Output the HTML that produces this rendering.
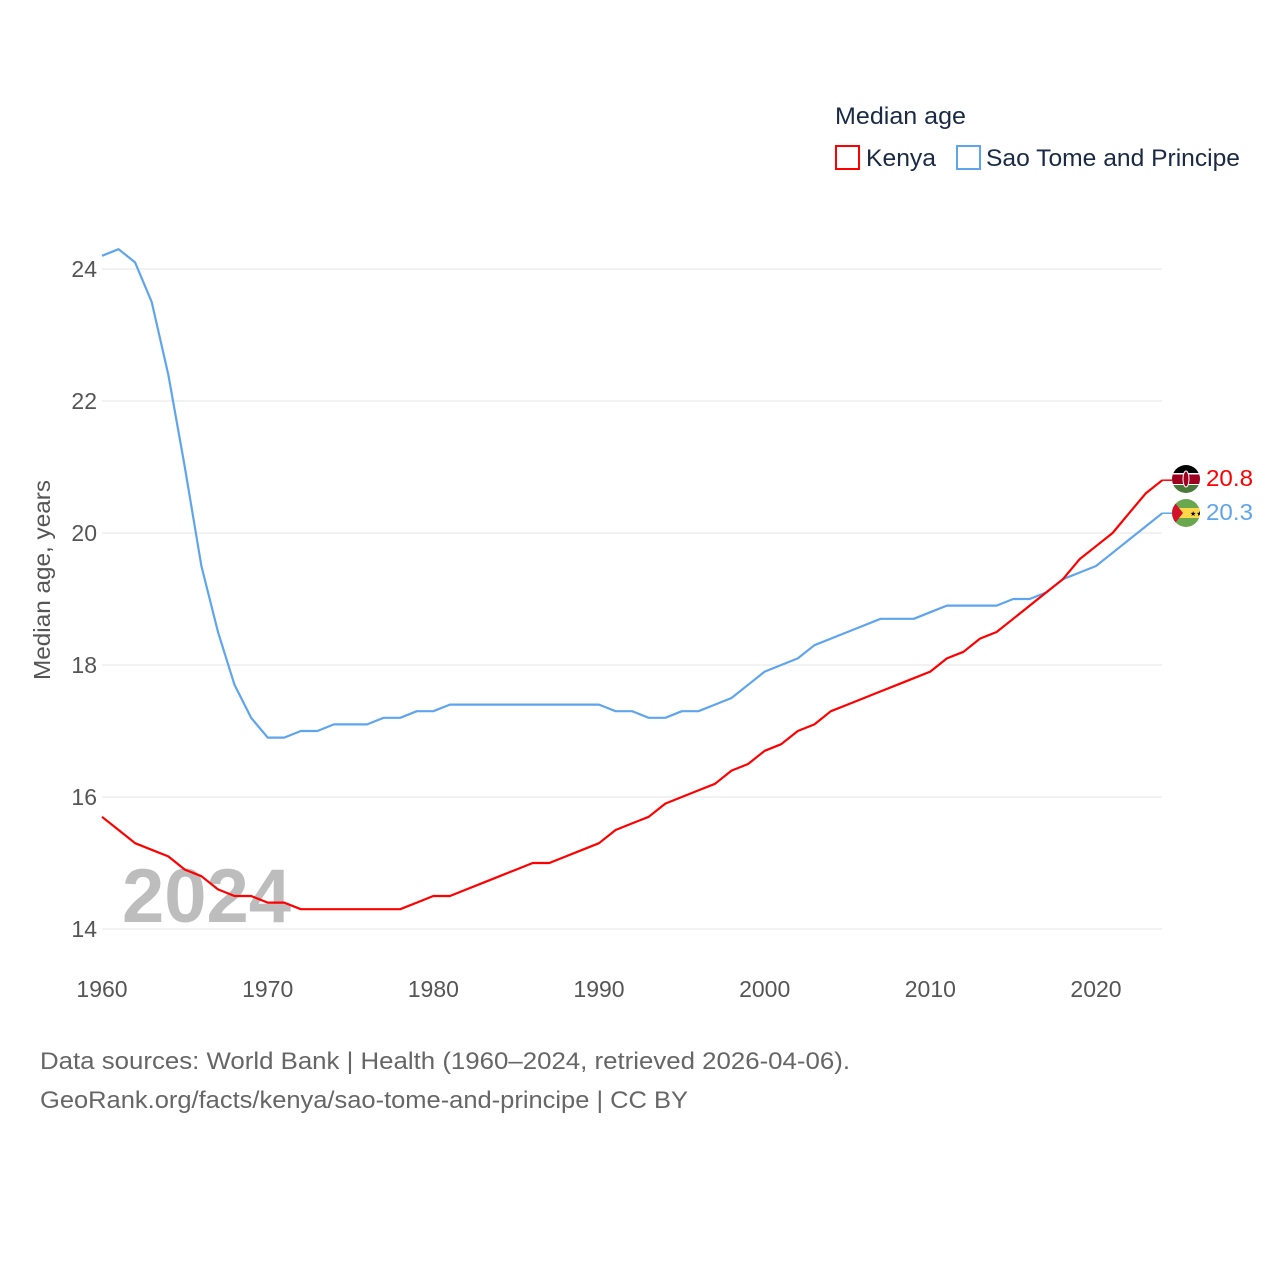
<!DOCTYPE html>
<html><head><meta charset="utf-8"><style>
body{margin:0;background:#fff;font-family:"Liberation Sans",sans-serif}
svg text{font-family:"Liberation Sans",sans-serif}
</style></head><body>
<svg id="chart" width="1280" height="1280" xmlns="http://www.w3.org/2000/svg">
<defs>
<clipPath id="c1"><circle cx="1186" cy="479" r="14"/></clipPath>
<clipPath id="c2"><circle cx="1186" cy="513" r="14"/></clipPath>
</defs>
<g id="grid"></g>
<g id="yticks"></g>
<g id="xticks"></g>
<text x="122" y="922" font-size="76" font-weight="bold" fill="#bdbdbd">2024</text>
<text transform="translate(50,580) rotate(-90)" text-anchor="middle" font-size="23" fill="#555" textLength="200" lengthAdjust="spacingAndGlyphs">Median age, years</text>
<g id="lines"></g>
<g clip-path="url(#c1)">
<rect x="1172" y="465" width="28" height="9" fill="#000"/><rect x="1172" y="474" width="28" height="10" fill="#a00020"/><rect x="1172" y="473" width="28" height="1.5" fill="#fff"/><rect x="1172" y="484" width="28" height="1.5" fill="#fff"/><rect x="1172" y="485" width="28" height="9" fill="#4a7a3a"/><ellipse cx="1186" cy="479" rx="3" ry="8" fill="#a00020" stroke="#fff" stroke-width="1"/>
</g>
<g clip-path="url(#c2)">
<rect x="1172" y="499" width="28" height="28" fill="#6aa84f"/><rect x="1172" y="508" width="28" height="10" fill="#ffd84a"/><polygon points="1172,499 1183,513 1172,527" fill="#d4112b"/><text x="1190" y="516" font-size="7">★★</text>
</g>
<text id="lblK" x="1206" y="486" font-size="23" fill="#f00" textLength="47" lengthAdjust="spacingAndGlyphs">20.8</text>
<text id="lblS" x="1206" y="520" font-size="23" fill="#5ea5ee" textLength="47" lengthAdjust="spacingAndGlyphs">20.3</text>
<text x="835" y="124" font-size="24" fill="#1a2a44" textLength="131" lengthAdjust="spacingAndGlyphs">Median age</text>
<rect x="836" y="146" width="23" height="23" fill="none" stroke="#f00" stroke-width="2"/>
<text x="866" y="166" font-size="24" fill="#1a2a44" textLength="70" lengthAdjust="spacingAndGlyphs">Kenya</text>
<rect x="957" y="146" width="23" height="23" fill="none" stroke="#5ea5ee" stroke-width="2"/>
<text x="986" y="166" font-size="24" fill="#1a2a44" textLength="254" lengthAdjust="spacingAndGlyphs">Sao Tome and Principe</text>
<text x="40" y="1069" font-size="24" fill="#666" textLength="810" lengthAdjust="spacingAndGlyphs">Data sources: World Bank | Health (1960–2024, retrieved 2026-04-06).</text>
<text x="40" y="1108" font-size="24" fill="#666" textLength="648" lengthAdjust="spacingAndGlyphs">GeoRank.org/facts/kenya/sao-tome-and-principe | CC BY</text>
</svg>
<script>
const years=[];for(let y=1960;y<=2024;y++)years.push(y);
const kenya=[15.7,15.5,15.3,15.2,15.1,14.9,14.8,14.6,14.5,14.5,14.4,14.4,14.3,14.3,14.3,14.3,14.3,14.3,14.3,14.4,14.5,14.5,14.6,14.7,14.8,14.9,15.0,15.0,15.1,15.2,15.3,15.5,15.6,15.7,15.9,16.0,16.1,16.2,16.4,16.5,16.7,16.8,17.0,17.1,17.3,17.4,17.5,17.6,17.7,17.8,17.9,18.1,18.2,18.4,18.5,18.7,18.9,19.1,19.3,19.6,19.8,20.0,20.3,20.6,20.8];
const saoTome=[24.2,24.3,24.1,23.5,22.4,21.0,19.5,18.5,17.7,17.2,16.9,16.9,17.0,17.0,17.1,17.1,17.1,17.2,17.2,17.3,17.3,17.4,17.4,17.4,17.4,17.4,17.4,17.4,17.4,17.4,17.4,17.3,17.3,17.2,17.2,17.3,17.3,17.4,17.5,17.7,17.9,18.0,18.1,18.3,18.4,18.5,18.6,18.7,18.7,18.7,18.8,18.9,18.9,18.9,18.9,19.0,19.0,19.1,19.3,19.4,19.5,19.7,19.9,20.1,20.3];
const yTicks=[14,16,18,20,22,24];
const xTicks=[1960,1970,1980,1990,2000,2010,2020];
const NS='http://www.w3.org/2000/svg';
const X=y=>102+(y-1960)*(1096-102)/60;
const Y=v=>929-(v-14)*66;
function mk(t,a,p){const e=document.createElementNS(NS,t);for(const k in a)e.setAttribute(k,a[k]);p.appendChild(e);return e;}
const grid=document.getElementById('grid'),yt=document.getElementById('yticks'),xt=document.getElementById('xticks'),lines=document.getElementById('lines');
yTicks.forEach(v=>{
const l=mk('line',{x1:102,x2:1162,y1:Y(v),y2:Y(v),stroke:'#e6e6e6','stroke-width':1},grid);


const t=mk('text',{x:97,y:Y(v)+8,'text-anchor':'end','font-size':23,fill:'#555'},yt);t.textContent=v;


});
xTicks.forEach(v=>{
const t=mk('text',{x:X(v),y:997,'text-anchor':'middle','font-size':23,fill:'#555'},xt);t.textContent=v;


});
function line(data,color,name){
const d=data.map((v,i)=>(i?'L':'M')+X(years[i]).toFixed(1)+','+Y(v).toFixed(1)).join('');
const p=mk('path',{d:d,fill:'none',stroke:color,'stroke-width':2.2,'stroke-linejoin':'round'},lines);


const last=data[data.length-1];
const c=mk('line',{x1:X(2024),x2:1172,y1:Y(last),y2:Y(last),stroke:color,'stroke-width':1.5},lines);


}
line(saoTome,'#5ea5ee','sao-tome-line');
line(kenya,'#f00','kenya-line');
</script>
</body></html>
